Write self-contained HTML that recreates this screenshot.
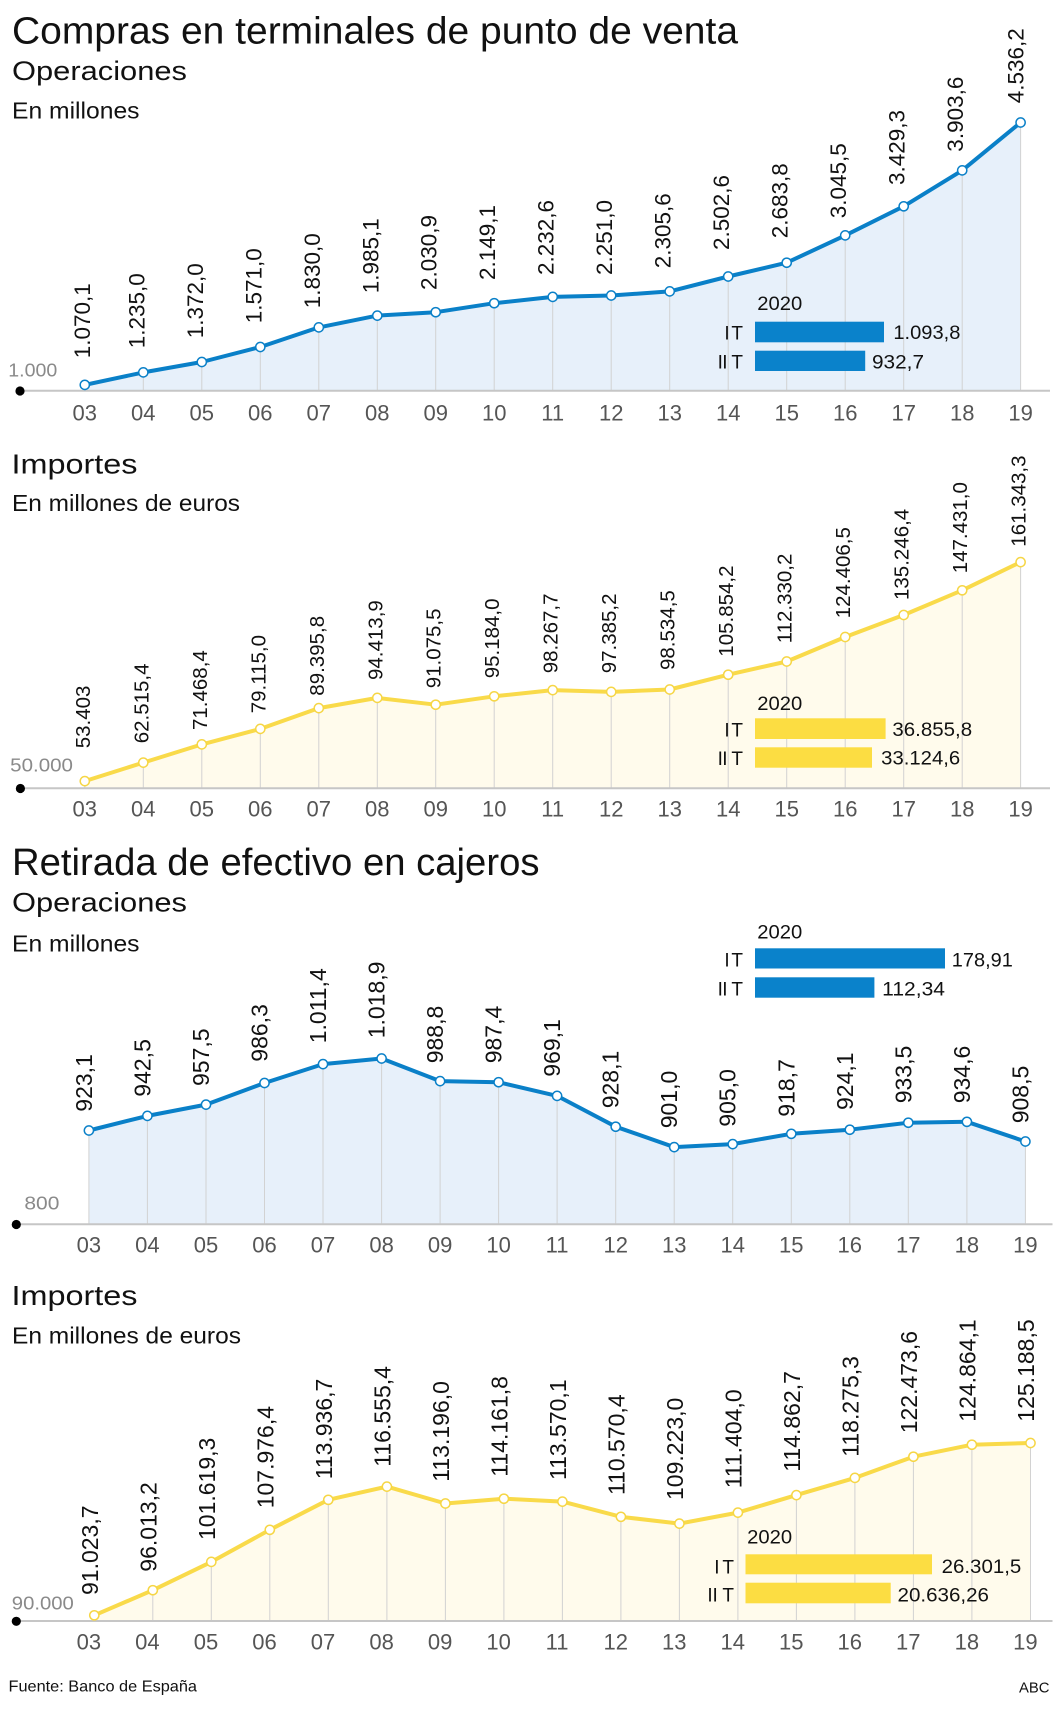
<!DOCTYPE html>
<html><head><meta charset="utf-8"><style>
html,body{margin:0;padding:0;background:#fff}
svg{display:block}
text{font-family:"Liberation Sans",Arial,sans-serif}
.t{fill:#111}
.ax{fill:#555;font-size:22px;text-anchor:middle}
.yl{fill:#8a8a8a;font-size:18px}
.lb{fill:#111}
.g{stroke:#d2d2d2;stroke-width:1}
.lg{fill:#111;font-size:19px}
</style></head><body>
<svg width="1063" height="1710" viewBox="0 0 1063 1710" xmlns="http://www.w3.org/2000/svg">
<rect width="1063" height="1710" fill="#fff"/>

<!-- ===== Chart 1 ===== -->
<text class="t" x="12" y="43.3" font-size="38" textLength="726" lengthAdjust="spacingAndGlyphs">Compras en terminales de punto de venta</text>
<text class="t" x="12" y="80" font-size="26.5" textLength="175" lengthAdjust="spacingAndGlyphs">Operaciones</text>
<text class="t" x="12" y="118.3" font-size="23" textLength="127.5" lengthAdjust="spacingAndGlyphs">En millones</text>

<polygon fill="#e7f0fa" points="84.8,384.9 143.3,372.4 201.8,362.0 260.3,347.0 318.8,327.4 377.3,315.6 435.7,312.2 494.2,303.2 552.7,296.9 611.2,295.5 669.7,291.4 728.2,276.5 786.7,262.7 845.2,235.4 903.7,206.3 962.2,170.4 1020.6,122.5 1020.6,390.7 84.8,390.7"/>
<g class="g">
<line x1="84.8" y1="384.9" x2="84.8" y2="390.7"/><line x1="143.3" y1="372.4" x2="143.3" y2="390.7"/><line x1="201.8" y1="362" x2="201.8" y2="390.7"/><line x1="260.3" y1="347" x2="260.3" y2="390.7"/><line x1="318.8" y1="327.4" x2="318.8" y2="390.7"/><line x1="377.3" y1="315.6" x2="377.3" y2="390.7"/><line x1="435.7" y1="312.2" x2="435.7" y2="390.7"/><line x1="494.2" y1="303.2" x2="494.2" y2="390.7"/><line x1="552.7" y1="296.9" x2="552.7" y2="390.7"/><line x1="611.2" y1="295.5" x2="611.2" y2="390.7"/><line x1="669.7" y1="291.4" x2="669.7" y2="390.7"/><line x1="728.2" y1="276.5" x2="728.2" y2="390.7"/><line x1="786.7" y1="262.7" x2="786.7" y2="390.7"/><line x1="845.2" y1="235.4" x2="845.2" y2="390.7"/><line x1="903.7" y1="206.3" x2="903.7" y2="390.7"/><line x1="962.2" y1="170.4" x2="962.2" y2="390.7"/><line x1="1020.6" y1="122.5" x2="1020.6" y2="390.7"/>
</g>
<line x1="20" y1="390.7" x2="1050" y2="390.7" stroke="#c6c6c6" stroke-width="2"/>
<circle cx="20" cy="391" r="4.6" fill="#000"/>
<text class="yl" x="8.3" y="376.3" textLength="49" lengthAdjust="spacingAndGlyphs">1.000</text>
<!-- legend -->
<text class="lg" x="757.3" y="310" textLength="45" lengthAdjust="spacingAndGlyphs">2020</text>
<text class="lg" x="724.4" y="339.3" textLength="18.6" lengthAdjust="spacing">I T</text>
<text class="lg" x="717.6" y="368.3" textLength="25.4" lengthAdjust="spacing">II T</text>
<rect x="755" y="321.7" width="129" height="20.6" fill="#0a82cb"/>
<rect x="755" y="350.7" width="110.2" height="20.3" fill="#0a82cb"/>
<text class="lg" x="893.4" y="338.8" textLength="67" lengthAdjust="spacingAndGlyphs">1.093,8</text>
<text class="lg" x="872" y="368.3" textLength="52" lengthAdjust="spacingAndGlyphs">932,7</text>
<polyline fill="none" stroke="#0a80c8" stroke-width="4" stroke-linejoin="round" points="84.8,384.9 143.3,372.4 201.8,362.0 260.3,347.0 318.8,327.4 377.3,315.6 435.7,312.2 494.2,303.2 552.7,296.9 611.2,295.5 669.7,291.4 728.2,276.5 786.7,262.7 845.2,235.4 903.7,206.3 962.2,170.4 1020.6,122.5"/>
<g fill="#fff" stroke="#0a80c8" stroke-width="1.5">
<circle cx="84.8" cy="384.9" r="4.6"/><circle cx="143.3" cy="372.4" r="4.6"/><circle cx="201.8" cy="362" r="4.6"/><circle cx="260.3" cy="347" r="4.6"/><circle cx="318.8" cy="327.4" r="4.6"/><circle cx="377.3" cy="315.6" r="4.6"/><circle cx="435.7" cy="312.2" r="4.6"/><circle cx="494.2" cy="303.2" r="4.6"/><circle cx="552.7" cy="296.9" r="4.6"/><circle cx="611.2" cy="295.5" r="4.6"/><circle cx="669.7" cy="291.4" r="4.6"/><circle cx="728.2" cy="276.5" r="4.6"/><circle cx="786.7" cy="262.7" r="4.6"/><circle cx="845.2" cy="235.4" r="4.6"/><circle cx="903.7" cy="206.3" r="4.6"/><circle cx="962.2" cy="170.4" r="4.6"/><circle cx="1020.6" cy="122.5" r="4.6"/>
</g>
<g class="lb" font-size="22.5">
<text transform="translate(89.8,358.3) rotate(-90)">1.070,1</text>
<text transform="translate(144.3,348.3) rotate(-90)">1.235,0</text>
<text transform="translate(202.8,338.3) rotate(-90)">1.372,0</text>
<text transform="translate(261.3,323.3) rotate(-90)">1.571,0</text>
<text transform="translate(319.8,308.3) rotate(-90)">1.830,0</text>
<text transform="translate(378.3,293.3) rotate(-90)">1.985,1</text>
<text transform="translate(436.7,290) rotate(-90)">2.030,9</text>
<text transform="translate(495.2,280) rotate(-90)">2.149,1</text>
<text transform="translate(553.7,275) rotate(-90)">2.232,6</text>
<text transform="translate(612.2,275) rotate(-90)">2.251,0</text>
<text transform="translate(670.7,268.3) rotate(-90)">2.305,6</text>
<text transform="translate(729.2,250) rotate(-90)">2.502,6</text>
<text transform="translate(787.7,238.3) rotate(-90)">2.683,8</text>
<text transform="translate(846.2,218.3) rotate(-90)">3.045,5</text>
<text transform="translate(904.7,185) rotate(-90)">3.429,3</text>
<text transform="translate(963.2,151.7) rotate(-90)">3.903,6</text>
<text transform="translate(1023.6,103.3) rotate(-90)">4.536,2</text>
</g>
<g class="ax">
<text x="84.8" y="420.5">03</text><text x="143.3" y="420.5">04</text><text x="201.8" y="420.5">05</text><text x="260.3" y="420.5">06</text><text x="318.8" y="420.5">07</text><text x="377.3" y="420.5">08</text><text x="435.7" y="420.5">09</text><text x="494.2" y="420.5">10</text><text x="552.7" y="420.5">11</text><text x="611.2" y="420.5">12</text><text x="669.7" y="420.5">13</text><text x="728.2" y="420.5">14</text><text x="786.7" y="420.5">15</text><text x="845.2" y="420.5">16</text><text x="903.7" y="420.5">17</text><text x="962.2" y="420.5">18</text><text x="1020.6" y="420.5">19</text>
</g>

<!-- ===== Chart 2 ===== -->
<text class="t" x="11.5" y="473.3" font-size="28" textLength="126" lengthAdjust="spacingAndGlyphs">Importes</text>
<text class="t" x="12" y="511" font-size="23" textLength="228" lengthAdjust="spacingAndGlyphs">En millones de euros</text>

<polygon fill="#fffbec" points="84.8,781.1 143.3,762.6 201.8,744.4 260.3,728.9 318.8,708.1 377.3,697.9 435.7,704.7 494.2,696.3 552.7,690.1 611.2,691.9 669.7,689.5 728.2,674.7 786.7,661.5 845.2,637.0 903.7,615.0 962.2,590.3 1020.6,562.1 1020.6,788.3 84.8,788.3"/>
<g class="g">
<line x1="84.8" y1="781.1" x2="84.8" y2="788.3"/><line x1="143.3" y1="762.6" x2="143.3" y2="788.3"/><line x1="201.8" y1="744.4" x2="201.8" y2="788.3"/><line x1="260.3" y1="728.9" x2="260.3" y2="788.3"/><line x1="318.8" y1="708.1" x2="318.8" y2="788.3"/><line x1="377.3" y1="697.9" x2="377.3" y2="788.3"/><line x1="435.7" y1="704.7" x2="435.7" y2="788.3"/><line x1="494.2" y1="696.3" x2="494.2" y2="788.3"/><line x1="552.7" y1="690.1" x2="552.7" y2="788.3"/><line x1="611.2" y1="691.9" x2="611.2" y2="788.3"/><line x1="669.7" y1="689.5" x2="669.7" y2="788.3"/><line x1="728.2" y1="674.7" x2="728.2" y2="788.3"/><line x1="786.7" y1="661.5" x2="786.7" y2="788.3"/><line x1="845.2" y1="637" x2="845.2" y2="788.3"/><line x1="903.7" y1="615" x2="903.7" y2="788.3"/><line x1="962.2" y1="590.3" x2="962.2" y2="788.3"/><line x1="1020.6" y1="562.1" x2="1020.6" y2="788.3"/>
</g>
<line x1="20" y1="788.3" x2="1050" y2="788.3" stroke="#c6c6c6" stroke-width="2"/>
<circle cx="20.4" cy="788.5" r="4.6" fill="#000"/>
<text class="yl" x="10.2" y="771.7" textLength="62.8" lengthAdjust="spacingAndGlyphs">50.000</text>
<text class="lg" x="757.3" y="710" textLength="45" lengthAdjust="spacingAndGlyphs">2020</text>
<text class="lg" x="724.4" y="736.5" textLength="18.6" lengthAdjust="spacing">I T</text>
<text class="lg" x="717.6" y="765" textLength="25.4" lengthAdjust="spacing">II T</text>
<rect x="755" y="718.3" width="130.6" height="20.7" fill="#fcdd42"/>
<rect x="755" y="747.3" width="117" height="20.4" fill="#fcdd42"/>
<text class="lg" x="892.4" y="736" textLength="79.7" lengthAdjust="spacingAndGlyphs">36.855,8</text>
<text class="lg" x="881.2" y="764.3" textLength="79" lengthAdjust="spacingAndGlyphs">33.124,6</text>
<polyline fill="none" stroke="#f9da4a" stroke-width="4" stroke-linejoin="round" points="84.8,781.1 143.3,762.6 201.8,744.4 260.3,728.9 318.8,708.1 377.3,697.9 435.7,704.7 494.2,696.3 552.7,690.1 611.2,691.9 669.7,689.5 728.2,674.7 786.7,661.5 845.2,637.0 903.7,615.0 962.2,590.3 1020.6,562.1"/>
<g fill="#fff" stroke="#f6d645" stroke-width="1.5">
<circle cx="84.8" cy="781.1" r="4.6"/><circle cx="143.3" cy="762.6" r="4.6"/><circle cx="201.8" cy="744.4" r="4.6"/><circle cx="260.3" cy="728.9" r="4.6"/><circle cx="318.8" cy="708.1" r="4.6"/><circle cx="377.3" cy="697.9" r="4.6"/><circle cx="435.7" cy="704.7" r="4.6"/><circle cx="494.2" cy="696.3" r="4.6"/><circle cx="552.7" cy="690.1" r="4.6"/><circle cx="611.2" cy="691.9" r="4.6"/><circle cx="669.7" cy="689.5" r="4.6"/><circle cx="728.2" cy="674.7" r="4.6"/><circle cx="786.7" cy="661.5" r="4.6"/><circle cx="845.2" cy="637" r="4.6"/><circle cx="903.7" cy="615" r="4.6"/><circle cx="962.2" cy="590.3" r="4.6"/><circle cx="1020.6" cy="562.1" r="4.6"/>
</g>
<g class="lb" font-size="20.5">
<text transform="translate(89.8,748.3) rotate(-90)">53.403</text>
<text transform="translate(148.3,743.3) rotate(-90)">62.515,4</text>
<text transform="translate(206.8,730) rotate(-90)">71.468,4</text>
<text transform="translate(265.3,713.3) rotate(-90)">79.115,0</text>
<text transform="translate(323.8,695.7) rotate(-90)">89.395,8</text>
<text transform="translate(382.3,680) rotate(-90)">94.413,9</text>
<text transform="translate(440.7,688.3) rotate(-90)">91.075,5</text>
<text transform="translate(499.2,678.3) rotate(-90)">95.184,0</text>
<text transform="translate(557.7,673.3) rotate(-90)">98.267,7</text>
<text transform="translate(616.2,673.3) rotate(-90)">97.385,2</text>
<text transform="translate(674.7,670) rotate(-90)">98.534,5</text>
<text transform="translate(733.2,656.7) rotate(-90)">105.854,2</text>
<text transform="translate(791.7,643.3) rotate(-90)">112.330,2</text>
<text transform="translate(850.2,618.3) rotate(-90)">124.406,5</text>
<text transform="translate(908.7,600) rotate(-90)">135.246,4</text>
<text transform="translate(967.2,573.3) rotate(-90)">147.431,0</text>
<text transform="translate(1025.6,546.7) rotate(-90)">161.343,3</text>
</g>
<g class="ax">
<text x="84.8" y="816.7">03</text><text x="143.3" y="816.7">04</text><text x="201.8" y="816.7">05</text><text x="260.3" y="816.7">06</text><text x="318.8" y="816.7">07</text><text x="377.3" y="816.7">08</text><text x="435.7" y="816.7">09</text><text x="494.2" y="816.7">10</text><text x="552.7" y="816.7">11</text><text x="611.2" y="816.7">12</text><text x="669.7" y="816.7">13</text><text x="728.2" y="816.7">14</text><text x="786.7" y="816.7">15</text><text x="845.2" y="816.7">16</text><text x="903.7" y="816.7">17</text><text x="962.2" y="816.7">18</text><text x="1020.6" y="816.7">19</text>
</g>

<!-- ===== Chart 3 ===== -->
<text class="t" x="12" y="875" font-size="38" textLength="527.5" lengthAdjust="spacingAndGlyphs">Retirada de efectivo en cajeros</text>
<text class="t" x="12" y="911.7" font-size="26.5" textLength="175" lengthAdjust="spacingAndGlyphs">Operaciones</text>
<text class="t" x="12" y="951.7" font-size="23" textLength="127.5" lengthAdjust="spacingAndGlyphs">En millones</text>

<polygon fill="#e7f0fa" points="88.9,1130.5 147.4,1115.9 206.0,1104.6 264.5,1083.0 323.0,1064.1 381.6,1058.5 440.1,1081.1 498.6,1082.2 557.1,1095.9 615.7,1126.7 674.2,1147.1 732.7,1144.1 791.3,1133.8 849.8,1129.7 908.3,1122.7 966.9,1121.8 1025.4,1141.5 1025.4,1224.3 88.9,1224.3"/>
<g class="g">
<line x1="88.9" y1="1130.5" x2="88.9" y2="1224.3"/><line x1="147.4" y1="1115.9" x2="147.4" y2="1224.3"/><line x1="206" y1="1104.6" x2="206" y2="1224.3"/><line x1="264.5" y1="1083" x2="264.5" y2="1224.3"/><line x1="323" y1="1064.1" x2="323" y2="1224.3"/><line x1="381.6" y1="1058.5" x2="381.6" y2="1224.3"/><line x1="440.1" y1="1081.1" x2="440.1" y2="1224.3"/><line x1="498.6" y1="1082.2" x2="498.6" y2="1224.3"/><line x1="557.1" y1="1095.9" x2="557.1" y2="1224.3"/><line x1="615.7" y1="1126.7" x2="615.7" y2="1224.3"/><line x1="674.2" y1="1147.1" x2="674.2" y2="1224.3"/><line x1="732.7" y1="1144.1" x2="732.7" y2="1224.3"/><line x1="791.3" y1="1133.8" x2="791.3" y2="1224.3"/><line x1="849.8" y1="1129.7" x2="849.8" y2="1224.3"/><line x1="908.3" y1="1122.7" x2="908.3" y2="1224.3"/><line x1="966.9" y1="1121.8" x2="966.9" y2="1224.3"/><line x1="1025.4" y1="1141.5" x2="1025.4" y2="1224.3"/>
</g>
<line x1="16" y1="1224.3" x2="1052.5" y2="1224.3" stroke="#c6c6c6" stroke-width="2"/>
<circle cx="16.3" cy="1224.5" r="4.6" fill="#000"/>
<text class="yl" x="24.4" y="1209.3" font-size="19" textLength="35" lengthAdjust="spacingAndGlyphs">800</text>
<text class="lg" x="757.3" y="938.3" textLength="45" lengthAdjust="spacingAndGlyphs">2020</text>
<text class="lg" x="724.4" y="966.7" textLength="18.6" lengthAdjust="spacing">I T</text>
<text class="lg" x="717.6" y="995.7" textLength="25.4" lengthAdjust="spacing">II T</text>
<rect x="755" y="948.3" width="190" height="20.2" fill="#0a82cb"/>
<rect x="755" y="977.3" width="119.4" height="20.4" fill="#0a82cb"/>
<text class="lg" x="951.8" y="966.7" textLength="61" lengthAdjust="spacingAndGlyphs">178,91</text>
<text class="lg" x="882.2" y="995.7" textLength="62.8" lengthAdjust="spacingAndGlyphs">112,34</text>
<polyline fill="none" stroke="#0a80c8" stroke-width="4" stroke-linejoin="round" points="88.9,1130.5 147.4,1115.9 206.0,1104.6 264.5,1083.0 323.0,1064.1 381.6,1058.5 440.1,1081.1 498.6,1082.2 557.1,1095.9 615.7,1126.7 674.2,1147.1 732.7,1144.1 791.3,1133.8 849.8,1129.7 908.3,1122.7 966.9,1121.8 1025.4,1141.5"/>
<g fill="#fff" stroke="#0a80c8" stroke-width="1.5">
<circle cx="88.9" cy="1130.5" r="4.6"/><circle cx="147.4" cy="1115.9" r="4.6"/><circle cx="206" cy="1104.6" r="4.6"/><circle cx="264.5" cy="1083" r="4.6"/><circle cx="323" cy="1064.1" r="4.6"/><circle cx="381.6" cy="1058.5" r="4.6"/><circle cx="440.1" cy="1081.1" r="4.6"/><circle cx="498.6" cy="1082.2" r="4.6"/><circle cx="557.1" cy="1095.9" r="4.6"/><circle cx="615.7" cy="1126.7" r="4.6"/><circle cx="674.2" cy="1147.1" r="4.6"/><circle cx="732.7" cy="1144.1" r="4.6"/><circle cx="791.3" cy="1133.8" r="4.6"/><circle cx="849.8" cy="1129.7" r="4.6"/><circle cx="908.3" cy="1122.7" r="4.6"/><circle cx="966.9" cy="1121.8" r="4.6"/><circle cx="1025.4" cy="1141.5" r="4.6"/>
</g>
<g class="lb" font-size="23">
<text transform="translate(91.9,1111.7) rotate(-90)">923,1</text>
<text transform="translate(150.4,1096.7) rotate(-90)">942,5</text>
<text transform="translate(209,1086) rotate(-90)">957,5</text>
<text transform="translate(267.5,1061.7) rotate(-90)">986,3</text>
<text transform="translate(326,1043.3) rotate(-90)">1.011,4</text>
<text transform="translate(384.6,1038.3) rotate(-90)">1.018,9</text>
<text transform="translate(443.1,1063.3) rotate(-90)">988,8</text>
<text transform="translate(501.6,1063.3) rotate(-90)">987,4</text>
<text transform="translate(560.1,1076.7) rotate(-90)">969,1</text>
<text transform="translate(618.7,1108.3) rotate(-90)">928,1</text>
<text transform="translate(677.2,1128.3) rotate(-90)">901,0</text>
<text transform="translate(735.7,1126.7) rotate(-90)">905,0</text>
<text transform="translate(794.3,1116.7) rotate(-90)">918,7</text>
<text transform="translate(852.8,1110) rotate(-90)">924,1</text>
<text transform="translate(911.3,1103.3) rotate(-90)">933,5</text>
<text transform="translate(969.9,1103.3) rotate(-90)">934,6</text>
<text transform="translate(1028.4,1123.3) rotate(-90)">908,5</text>
</g>
<g class="ax">
<text x="88.9" y="1252.7">03</text><text x="147.4" y="1252.7">04</text><text x="206" y="1252.7">05</text><text x="264.5" y="1252.7">06</text><text x="323" y="1252.7">07</text><text x="381.6" y="1252.7">08</text><text x="440.1" y="1252.7">09</text><text x="498.6" y="1252.7">10</text><text x="557.1" y="1252.7">11</text><text x="615.7" y="1252.7">12</text><text x="674.2" y="1252.7">13</text><text x="732.7" y="1252.7">14</text><text x="791.3" y="1252.7">15</text><text x="849.8" y="1252.7">16</text><text x="908.3" y="1252.7">17</text><text x="966.9" y="1252.7">18</text><text x="1025.4" y="1252.7">19</text>
</g>

<!-- ===== Chart 4 ===== -->
<text class="t" x="11.5" y="1305" font-size="28" textLength="126" lengthAdjust="spacingAndGlyphs">Importes</text>
<text class="t" x="12" y="1343.3" font-size="23" textLength="229" lengthAdjust="spacingAndGlyphs">En millones de euros</text>

<polygon fill="#fffbec" points="94.3,1615.3 152.8,1590.2 211.3,1561.9 269.8,1529.8 328.3,1499.8 386.9,1486.6 445.4,1503.5 503.9,1498.7 562.4,1501.6 620.9,1516.8 679.4,1523.6 737.9,1512.6 796.4,1495.1 854.9,1477.9 913.4,1456.7 971.9,1444.7 1030.5,1443.0 1030.5,1621 94.3,1621"/>
<g class="g">
<line x1="94.3" y1="1615.3" x2="94.3" y2="1621"/><line x1="152.8" y1="1590.2" x2="152.8" y2="1621"/><line x1="211.3" y1="1561.9" x2="211.3" y2="1621"/><line x1="269.8" y1="1529.8" x2="269.8" y2="1621"/><line x1="328.3" y1="1499.8" x2="328.3" y2="1621"/><line x1="386.9" y1="1486.6" x2="386.9" y2="1621"/><line x1="445.4" y1="1503.5" x2="445.4" y2="1621"/><line x1="503.9" y1="1498.7" x2="503.9" y2="1621"/><line x1="562.4" y1="1501.6" x2="562.4" y2="1621"/><line x1="620.9" y1="1516.8" x2="620.9" y2="1621"/><line x1="679.4" y1="1523.6" x2="679.4" y2="1621"/><line x1="737.9" y1="1512.6" x2="737.9" y2="1621"/><line x1="796.4" y1="1495.1" x2="796.4" y2="1621"/><line x1="854.9" y1="1477.9" x2="854.9" y2="1621"/><line x1="913.4" y1="1456.7" x2="913.4" y2="1621"/><line x1="971.9" y1="1444.7" x2="971.9" y2="1621"/><line x1="1030.5" y1="1443" x2="1030.5" y2="1621"/>
</g>
<line x1="16" y1="1621" x2="1052.5" y2="1621" stroke="#c6c6c6" stroke-width="2"/>
<circle cx="16.3" cy="1621.3" r="4.6" fill="#000"/>
<text class="yl" x="11.8" y="1609.5" textLength="62" lengthAdjust="spacingAndGlyphs">90.000</text>
<text class="lg" x="747.2" y="1543.3" textLength="45" lengthAdjust="spacingAndGlyphs">2020</text>
<text class="lg" x="714.2" y="1573.3" textLength="19.8" lengthAdjust="spacing">I T</text>
<text class="lg" x="707.4" y="1601.7" textLength="26.6" lengthAdjust="spacing">II T</text>
<rect x="745.5" y="1554.3" width="186.5" height="20" fill="#fcdd42"/>
<rect x="745.5" y="1582.7" width="145.2" height="20.6" fill="#fcdd42"/>
<text class="lg" x="941.6" y="1573" textLength="79.7" lengthAdjust="spacingAndGlyphs">26.301,5</text>
<text class="lg" x="897.5" y="1601.7" textLength="91.5" lengthAdjust="spacingAndGlyphs">20.636,26</text>
<polyline fill="none" stroke="#f9da4a" stroke-width="4" stroke-linejoin="round" points="94.3,1615.3 152.8,1590.2 211.3,1561.9 269.8,1529.8 328.3,1499.8 386.9,1486.6 445.4,1503.5 503.9,1498.7 562.4,1501.6 620.9,1516.8 679.4,1523.6 737.9,1512.6 796.4,1495.1 854.9,1477.9 913.4,1456.7 971.9,1444.7 1030.5,1443.0"/>
<g fill="#fff" stroke="#f6d645" stroke-width="1.5">
<circle cx="94.3" cy="1615.3" r="4.6"/><circle cx="152.8" cy="1590.2" r="4.6"/><circle cx="211.3" cy="1561.9" r="4.6"/><circle cx="269.8" cy="1529.8" r="4.6"/><circle cx="328.3" cy="1499.8" r="4.6"/><circle cx="386.9" cy="1486.6" r="4.6"/><circle cx="445.4" cy="1503.5" r="4.6"/><circle cx="503.9" cy="1498.7" r="4.6"/><circle cx="562.4" cy="1501.6" r="4.6"/><circle cx="620.9" cy="1516.8" r="4.6"/><circle cx="679.4" cy="1523.6" r="4.6"/><circle cx="737.9" cy="1512.6" r="4.6"/><circle cx="796.4" cy="1495.1" r="4.6"/><circle cx="854.9" cy="1477.9" r="4.6"/><circle cx="913.4" cy="1456.7" r="4.6"/><circle cx="971.9" cy="1444.7" r="4.6"/><circle cx="1030.5" cy="1443" r="4.6"/>
</g>
<g class="lb" font-size="23">
<text transform="translate(97.8,1595) rotate(-90)">91.023,7</text>
<text transform="translate(156.3,1571.7) rotate(-90)">96.013,2</text>
<text transform="translate(214.8,1540) rotate(-90)">101.619,3</text>
<text transform="translate(273.3,1508.3) rotate(-90)">107.976,4</text>
<text transform="translate(331.8,1479.3) rotate(-90)">113.936,7</text>
<text transform="translate(390.4,1466.7) rotate(-90)">116.555,4</text>
<text transform="translate(448.9,1481.7) rotate(-90)">113.196,0</text>
<text transform="translate(507.4,1476.7) rotate(-90)">114.161,8</text>
<text transform="translate(565.9,1480) rotate(-90)">113.570,1</text>
<text transform="translate(624.4,1495) rotate(-90)">110.570,4</text>
<text transform="translate(682.9,1500) rotate(-90)">109.223,0</text>
<text transform="translate(741.4,1488.3) rotate(-90)">111.404,0</text>
<text transform="translate(799.9,1471.7) rotate(-90)">114.862,7</text>
<text transform="translate(858.4,1456.7) rotate(-90)">118.275,3</text>
<text transform="translate(916.9,1433.3) rotate(-90)">122.473,6</text>
<text transform="translate(975.4,1421.7) rotate(-90)">124.864,1</text>
<text transform="translate(1034,1421.7) rotate(-90)">125.188,5</text>
</g>
<g class="ax">
<text x="88.9" y="1649.3">03</text><text x="147.4" y="1649.3">04</text><text x="206" y="1649.3">05</text><text x="264.5" y="1649.3">06</text><text x="323" y="1649.3">07</text><text x="381.6" y="1649.3">08</text><text x="440.1" y="1649.3">09</text><text x="498.6" y="1649.3">10</text><text x="557.1" y="1649.3">11</text><text x="615.7" y="1649.3">12</text><text x="674.2" y="1649.3">13</text><text x="732.7" y="1649.3">14</text><text x="791.3" y="1649.3">15</text><text x="849.8" y="1649.3">16</text><text x="908.3" y="1649.3">17</text><text x="966.9" y="1649.3">18</text><text x="1025.4" y="1649.3">19</text>
</g>

<!-- footer -->
<text class="t" x="8.5" y="1691.7" font-size="16" textLength="188.5" lengthAdjust="spacingAndGlyphs">Fuente: Banco de España</text>
<text class="t" x="1019" y="1692.3" font-size="15" textLength="30.5" lengthAdjust="spacingAndGlyphs">ABC</text>
</svg>
</body></html>
